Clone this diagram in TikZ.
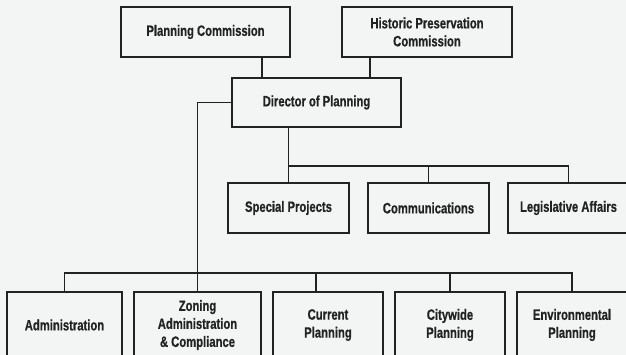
\documentclass[tikz,border=0pt]{standalone}
\usepackage{fontspec}
\newfontfamily\orgfont{Liberation Sans}[FakeStretch=0.75, BoldFeatures={FakeBold=0.6}]
\usetikzlibrary{positioning, calc}
\definecolor{paperGray}{RGB}{243,244,244}
\definecolor{inkGray}{RGB}{34,34,34}

\begin{document}
\begin{tikzpicture}[
    x=1pt, y=-1pt,
    every node/.style={font=\orgfont\bfseries\fontsize{15}{18}\selectfont, text=inkGray},
    obox/.style={rectangle, draw=inkGray, line width=1.4pt, outer sep=0pt, inner sep=2pt, align=center, minimum width=#1, minimum height=50pt},
    obox/.default={121pt},
    tallbox/.style={obox=#1, minimum height=66pt},
    link/.style={draw=inkGray, line width=1.2pt}
]
\useasboundingbox (0,0) rectangle (626,355);
\clip (0,0) rectangle (626,355);
\fill[paperGray] (0,0) rectangle (626,355);

% Row 1: Commissions and Director
\node[obox=169pt] (planComm) at (205.5,32) {Planning Commission};
\node[obox=170pt] (histComm) at (427,32) {Historic Preservation\\Commission};
\node[obox=169pt, minimum height=49pt] (director) at (316.5,102.5) {Director of Planning};

% Row 2: Staff offices
\node[obox] (special) at (288.5,208) {Special Projects};
\node[obox, right=19pt of special] (comms) {Communications};
\node[obox, right=19pt of comms] (legis) {Legislative Affairs};

% Row 3: Divisions
\node[tallbox=115pt] (admin) at (64.5,325) {Administration};
\node[tallbox=127pt, right=12pt of admin] (zoning) {Zoning\\Administration\\\& Compliance};
\node[tallbox=110pt, right=12pt of zoning] (current) {Current\\Planning};
\node[tallbox=110pt, right=12pt of current] (citywide) {Citywide\\Planning};
\node[tallbox=110pt, right=12pt of citywide] (enviro) {Environmental\\Planning};

% Commissions to director
\coordinate (pcDrop) at ([xshift=-28pt]planComm.south east);
\coordinate (hpcDrop) at ([xshift=28pt]histComm.south west);
\draw[link] (pcDrop) -- (pcDrop |- director.north);
\draw[link] (hpcDrop) -- (hpcDrop |- director.north);

% Director to staff offices
\draw[link] (special.north |- director.south) -- (special.north);
\draw[link] (special.north) ++(0,-17) -| (legis.north);
\draw[link] (comms.north) -- ++(0,-17);

% Director to divisions
\draw[link] (director.west) -| (zoning.north);
\draw[link] (admin.north) -- ++(0,-19) -| (enviro.north);
\coordinate (curDrop) at ([xshift=-12pt]current.north);
\draw[link] (curDrop) -- ++(0,-19);
\draw[link] (citywide.north) -- ++(0,-19);

\end{tikzpicture}
\end{document}
